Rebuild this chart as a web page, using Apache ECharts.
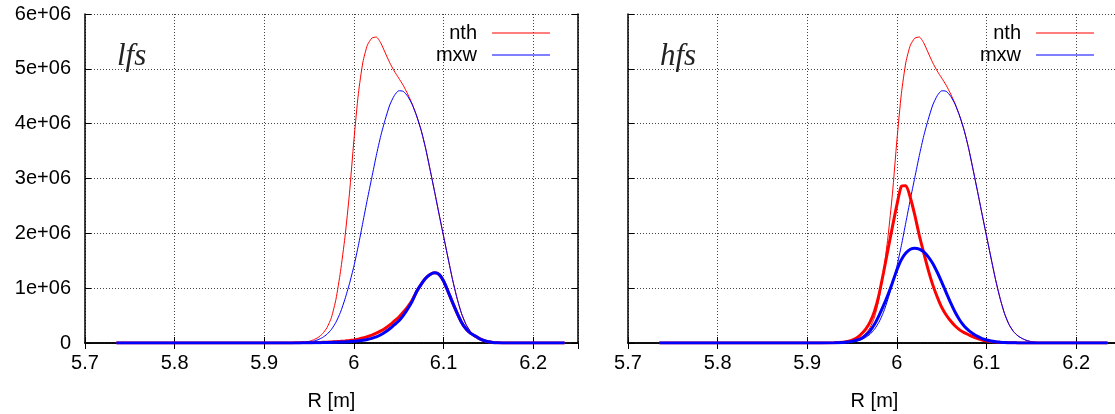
<!DOCTYPE html>
<html>
<head>
<meta charset="utf-8">
<script src="https://cdn.jsdelivr.net/npm/echarts@6/dist/echarts.min.js"></script>
<style>
html,body{margin:0;padding:0;background:#fff;}
#c{width:1115px;height:414px;}
</style>
</head>
<body>
<div id="c"></div>
<script>
// R [m] sample positions
const R = [5.735, 5.900, 5.930, 5.940, 5.945, 5.950, 5.955, 5.960, 5.965, 5.970,
  5.975, 5.980, 5.985, 5.990, 5.995, 6.000, 6.005, 6.010, 6.015, 6.020,
  6.025, 6.030, 6.035, 6.040, 6.045, 6.050, 6.055, 6.060, 6.065, 6.070,
  6.075, 6.080, 6.085, 6.090, 6.095, 6.100, 6.105, 6.110, 6.115, 6.120,
  6.125, 6.130, 6.135, 6.140, 6.145, 6.150, 6.155, 6.160, 6.170, 6.235];

// values in units of 1e+06
const nthAll = [0, 0, 0.003, 0.008, 0.015, 0.03, 0.06, 0.10, 0.17, 0.28,
  0.47, 0.80, 1.30, 1.93, 2.72, 3.70, 4.55, 5.12, 5.43, 5.56,
  5.58, 5.47, 5.29, 5.11, 4.96, 4.83, 4.70, 4.54, 4.36, 4.14,
  3.88, 3.55, 3.16, 2.76, 2.35, 1.95, 1.55, 1.16, 0.82, 0.54,
  0.34, 0.21, 0.13, 0.08, 0.045, 0.025, 0.012, 0.005, 0, 0];

const mxwAll = [0, 0, 0.002, 0.006, 0.01, 0.02, 0.035, 0.06, 0.10, 0.16,
  0.25, 0.38, 0.56, 0.80, 1.08, 1.40, 1.78, 2.20, 2.62, 3.02,
  3.42, 3.78, 4.08, 4.34, 4.51, 4.60, 4.59, 4.50, 4.35, 4.14,
  3.88, 3.55, 3.16, 2.76, 2.35, 1.95, 1.55, 1.16, 0.82, 0.54,
  0.34, 0.21, 0.13, 0.08, 0.045, 0.025, 0.012, 0.005, 0, 0];

const nthLfs = [0, 0, 0.002, 0.003, 0.004, 0.005, 0.007, 0.009, 0.012, 0.015,
  0.019, 0.024, 0.03, 0.037, 0.046, 0.057, 0.07, 0.09, 0.115, 0.145,
  0.18, 0.22, 0.27, 0.33, 0.40, 0.47, 0.56, 0.66, 0.78, 0.94,
  1.07, 1.18, 1.25, 1.28, 1.25, 1.13, 0.94, 0.74, 0.55, 0.38,
  0.26, 0.18, 0.13, 0.08, 0.045, 0.022, 0.01, 0.005, 0, 0];

const mxwLfs = [0, 0, 0.001, 0.002, 0.003, 0.004, 0.005, 0.006, 0.007, 0.009,
  0.011, 0.013, 0.016, 0.02, 0.025, 0.03, 0.04, 0.05, 0.065, 0.085,
  0.11, 0.15, 0.20, 0.26, 0.33, 0.40, 0.50, 0.62, 0.76, 0.94,
  1.07, 1.18, 1.25, 1.28, 1.25, 1.13, 0.94, 0.74, 0.55, 0.38,
  0.26, 0.18, 0.13, 0.08, 0.045, 0.022, 0.01, 0.005, 0, 0];

const nthHfs = [0, 0.001, 0.005, 0.015, 0.03, 0.05, 0.09, 0.16, 0.25, 0.38,
  0.58, 0.88, 1.28, 1.70, 2.12, 2.52, 2.86, 2.87, 2.65, 2.33,
  1.96, 1.64, 1.33, 1.06, 0.84, 0.65, 0.51, 0.40, 0.31, 0.24,
  0.19, 0.15, 0.11, 0.08, 0.055, 0.038, 0.026, 0.018, 0.012, 0.008,
  0.005, 0.003, 0.002, 0.001, 0, 0, 0, 0, 0, 0];

const mxwHfs = [0, 0.001, 0.004, 0.01, 0.018, 0.03, 0.05, 0.08, 0.14, 0.22,
  0.34, 0.50, 0.68, 0.88, 1.10, 1.33, 1.52, 1.64, 1.71, 1.73,
  1.71, 1.66, 1.57, 1.45, 1.29, 1.11, 0.92, 0.73, 0.56, 0.42,
  0.31, 0.23, 0.17, 0.12, 0.08, 0.055, 0.035, 0.022, 0.014, 0.008,
  0.005, 0.003, 0.002, 0.001, 0, 0, 0, 0, 0, 0];

const xTicks = {min: 5.7, max: 6.25, interval: 0.1};
const yTicks = {min: 0, max: 6, interval: 1};
const panelLabels = ['lfs', 'hfs'];
const legendNames = ['nth', 'mxw'];

function pairs(ys) { return R.map((x, i) => [x, ys[i]]); }

const FONT = '"Liberation Sans", Arial, sans-serif';
const RED = '#ff0000', BLUE = '#0000ff';

const frameLine = {show: true, lineStyle: {color: '#000', width: 1.5}};
const tickIn = {show: true, inside: true, length: 6, lineStyle: {color: '#000', width: 1}};
const gridLine = {show: true, lineStyle: {color: '#444', width: 1, type: [1, 2]}};

function xAxes(g) {
  return [
    Object.assign({}, xTicks, {
      gridIndex: g, type: 'value', position: 'bottom',
      axisLine: frameLine, axisTick: tickIn, splitLine: gridLine,
      axisLabel: {show: true, color: '#000', fontSize: 20, fontFamily: FONT, margin: 10,
        showMaxLabel: false, formatter: v => String(+v.toFixed(1))},
      name: 'R [m]', nameLocation: 'middle', nameGap: 48,
      nameTextStyle: {color: '#000', fontSize: 20, fontFamily: FONT}
    }),
    Object.assign({}, xTicks, {
      gridIndex: g, type: 'value', position: 'top',
      axisLine: frameLine, axisTick: tickIn, splitLine: {show: false},
      axisLabel: {show: false}
    })
  ];
}
function yAxes(g, labels) {
  return [
    Object.assign({}, yTicks, {
      gridIndex: g, type: 'value', position: 'left',
      axisLine: frameLine, axisTick: tickIn, splitLine: gridLine,
      axisLabel: {show: labels, color: '#000', fontSize: 20, fontFamily: FONT, margin: 14,
        formatter: v => v === 0 ? '0' : v + 'e+06'}
    }),
    Object.assign({}, yTicks, {
      gridIndex: g, type: 'value', position: 'right',
      axisLine: frameLine, axisTick: tickIn, splitLine: {show: false},
      axisLabel: {show: false}
    })
  ];
}

function seriesFor(g, nthSub, mxwSub, tag) {
  const xi = g * 2, yi = g * 2;
  const base = {type: 'line', xAxisIndex: xi, yAxisIndex: yi, showSymbol: false, symbol: 'none',
    smooth: 0.2, silent: true};
  return [
    Object.assign({}, base, {name: 'nth', color: RED, lineStyle: {color: RED, width: 1}, data: pairs(nthAll), z: 2}),
    Object.assign({}, base, {name: 'mxw', color: BLUE, lineStyle: {color: BLUE, width: 1}, data: pairs(mxwAll), z: 3}),
    Object.assign({}, base, {name: 'nth ' + tag, color: RED, lineStyle: {color: RED, width: 3}, data: pairs(nthSub), z: 4}),
    Object.assign({}, base, {name: 'mxw ' + tag, color: BLUE, lineStyle: {color: BLUE, width: 3}, data: pairs(mxwSub), z: 5})
  ];
}

function legendFor(rightPx) {
  return {
    data: legendNames, orient: 'vertical', right: rightPx, top: 18, align: 'right',
    icon: 'rect', itemWidth: 58, itemHeight: 1, itemGap: 2, selectedMode: false,
    textStyle: {color: '#000', fontSize: 20, fontFamily: FONT, lineHeight: 20, padding: [0, 10, 0, 0]}
  };
}

const chart = echarts.init(document.getElementById('c'), null, {renderer: 'canvas'});
chart.setOption({
  animation: false,
  backgroundColor: '#fff',
  grid: [
    {left: 85, right: 537, top: 14, bottom: 71, containLabel: false, outerBoundsMode: 'none'},
    {left: 628, right: -6, top: 14, bottom: 71, containLabel: false, outerBoundsMode: 'none'}
  ],
  xAxis: xAxes(0).concat(xAxes(1)),
  yAxis: yAxes(0, true).concat(yAxes(1, false)),
  legend: [legendFor(560), legendFor(16)],
  graphic: [
    {type: 'text', left: 117, top: 41, z: 10,
      style: {text: panelLabels[0], font: 'italic 31px "Liberation Serif", "Times New Roman", serif', fill: '#222'}},
    {type: 'text', left: 660, top: 41, z: 10,
      style: {text: panelLabels[1], font: 'italic 31px "Liberation Serif", "Times New Roman", serif', fill: '#222'}}
  ],
  series: seriesFor(0, nthLfs, mxwLfs, 'lfs').concat(seriesFor(1, nthHfs, mxwHfs, 'hfs'))
});
</script>
</body>
</html>
